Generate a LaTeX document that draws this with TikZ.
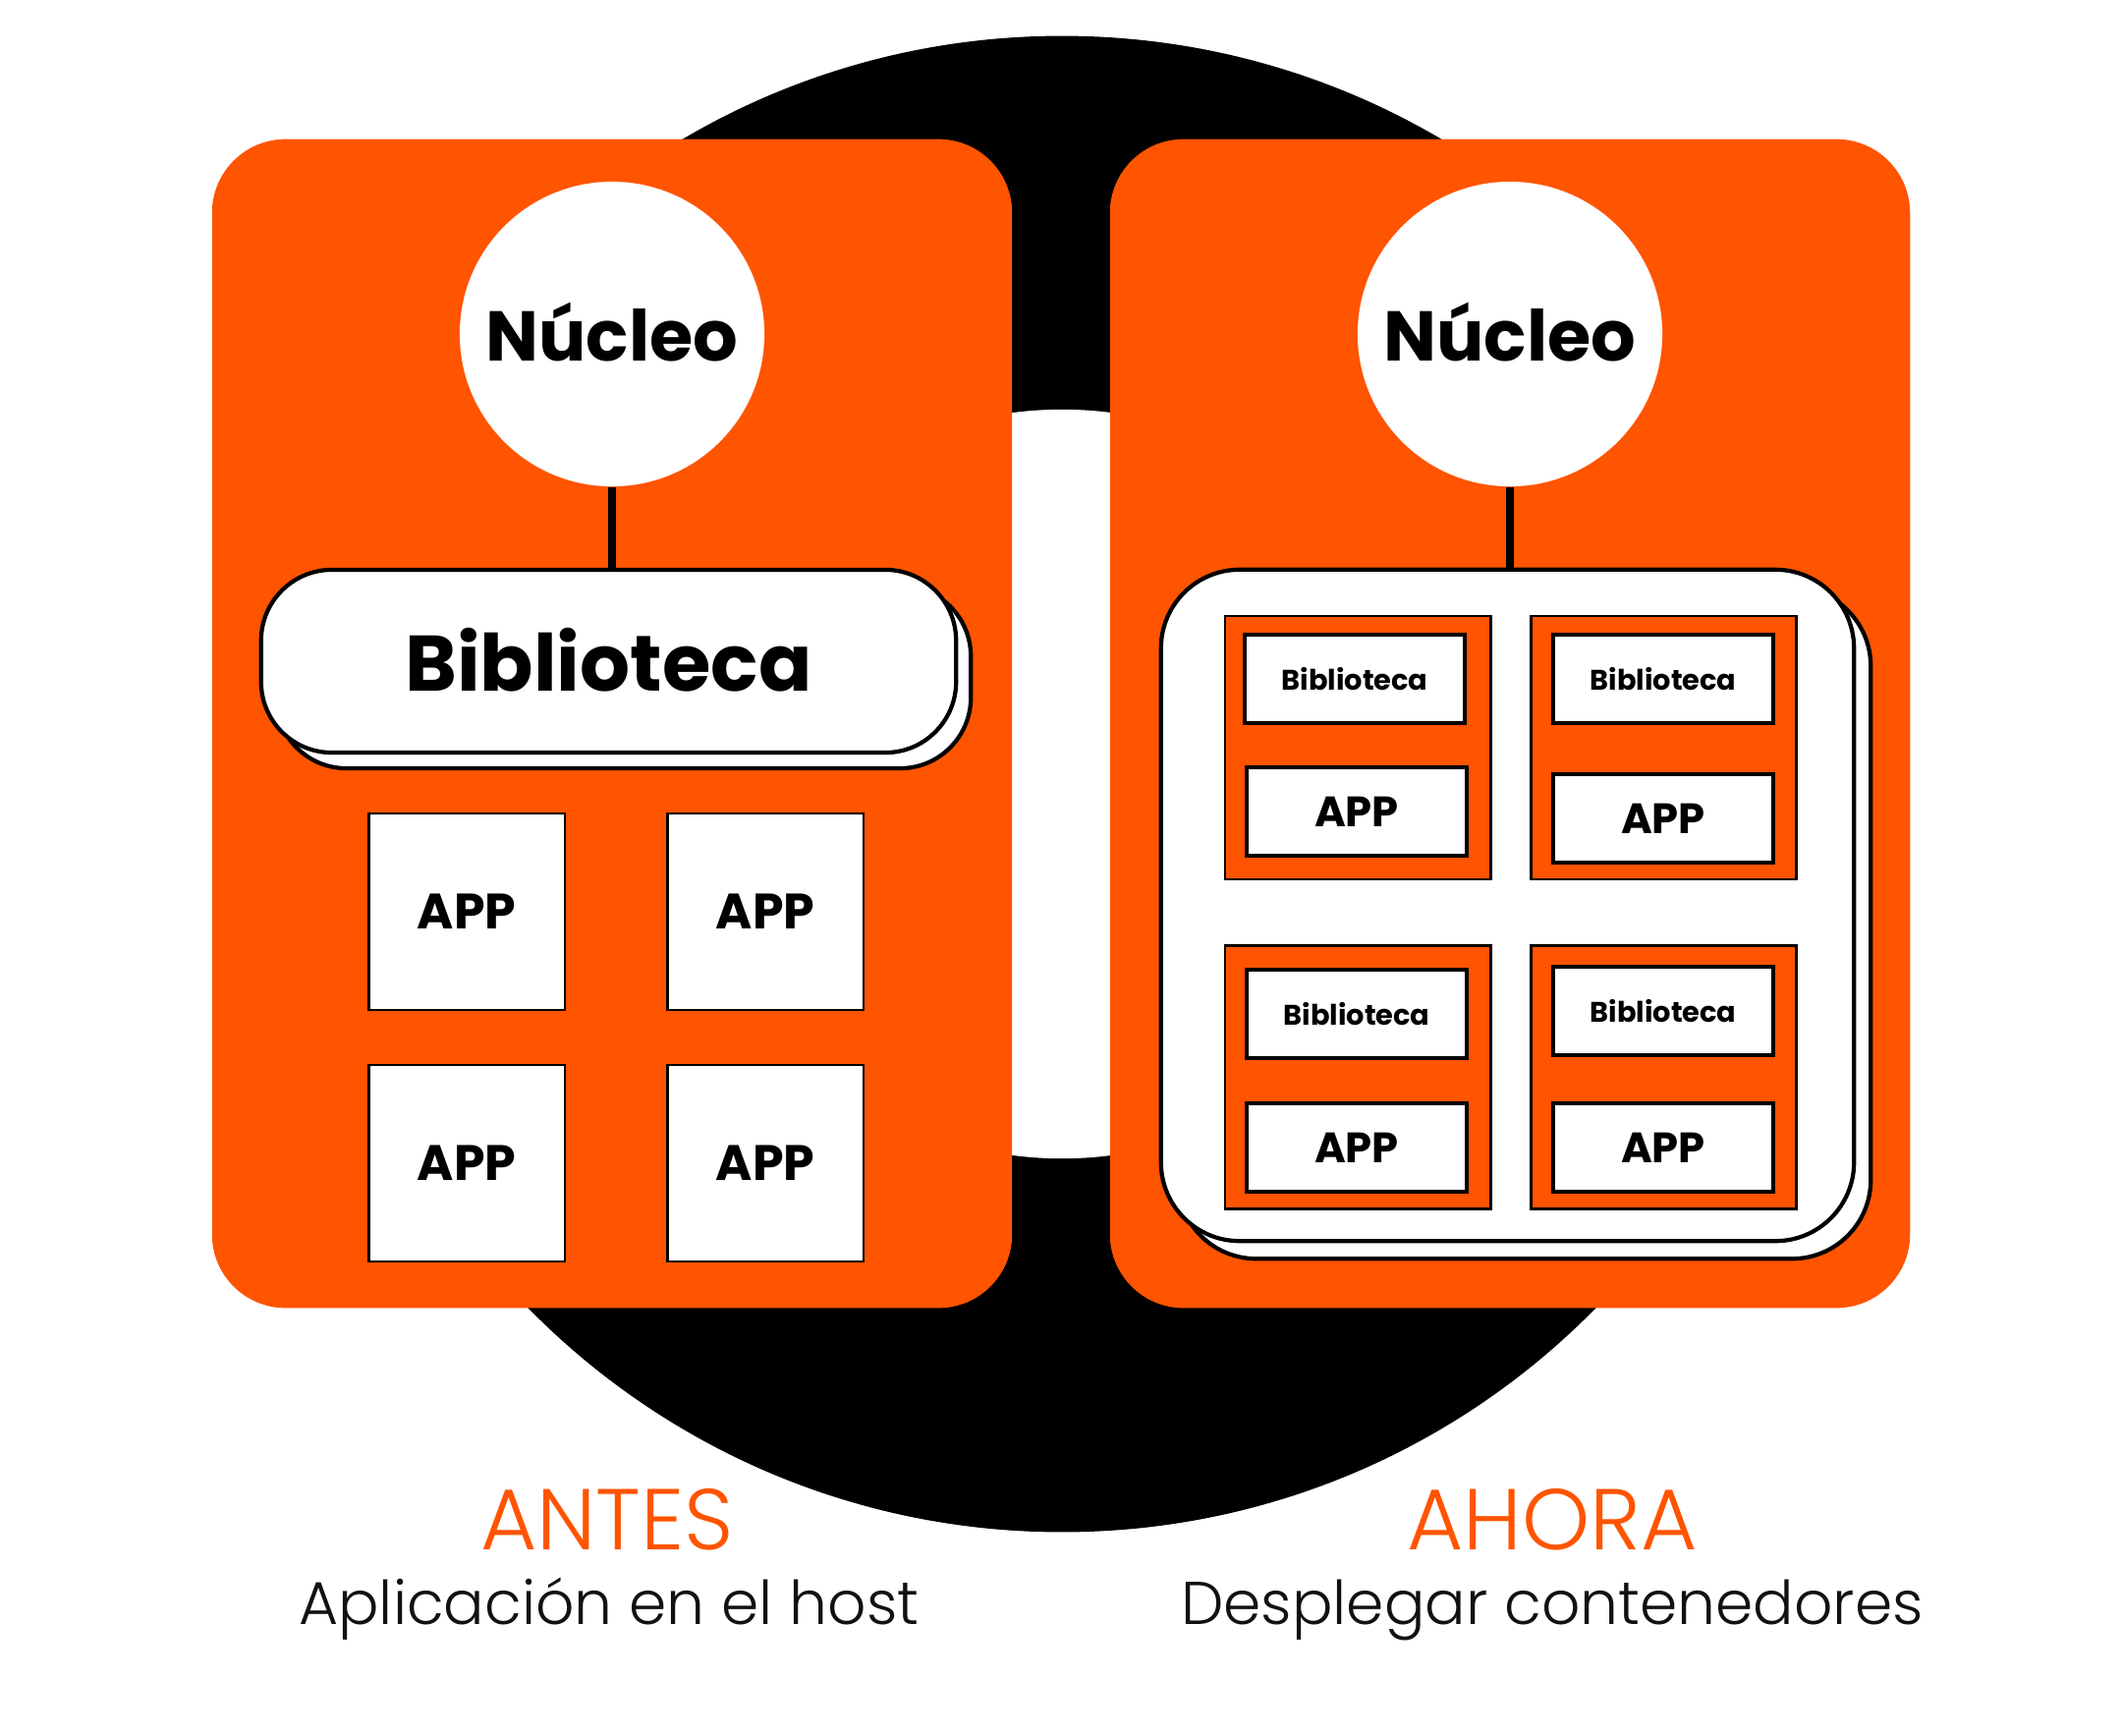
\documentclass[tikz,border=0pt]{standalone}
\usepackage{fontspec}
\setmainfont{Poppins}
\newfontfamily\poplight{Poppins Light}
\usetikzlibrary{positioning,shadows}
\definecolor{brandorange}{RGB}{255,84,0}
\definecolor{inkblack}{RGB}{17,17,17}

\begin{document}
\begin{tikzpicture}[
  x=0.01cm,y=-0.01cm,
  panel/.style={rectangle,fill=brandorange,rounded corners=0.75cm,
                minimum width=8.14cm,minimum height=11.89cm},
  nucleus/.style={circle,fill=white,minimum size=3.1cm,inner sep=0pt,
                  font=\bfseries\fontsize{20.4}{24}\selectfont},
  libbig/.style={rectangle,draw=black,fill=white,line width=1.2pt,
                 rounded corners=0.72cm,minimum width=7.07cm,minimum height=1.86cm,
                 copy shadow={shadow xshift=0.15cm,shadow yshift=-0.16cm,
                              draw=black,fill=white,line width=1.2pt},
                 font=\bfseries\fontsize{22.8}{27}\selectfont},
  appbox/.style={rectangle,draw=black,fill=white,line width=0.6pt,
                 minimum width=1.99cm,minimum height=2.0cm,
                 font=\bfseries\fontsize{14.4}{17}\selectfont},
  container/.style={rectangle,draw=black,fill=white,line width=1.2pt,
                    rounded corners=0.8cm,minimum width=7.05cm,minimum height=6.83cm,
                    copy shadow={shadow xshift=0.17cm,shadow yshift=-0.18cm,
                                 draw=black,fill=white,line width=1.2pt}},
  pod/.style={rectangle,draw=black,fill=brandorange,line width=0.8pt,
              minimum width=2.7cm,minimum height=2.68cm},
  podlib/.style={rectangle,draw=black,fill=white,line width=1.3pt,
                 minimum width=2.24cm,minimum height=0.9cm,
                 font=\bfseries\fontsize{8.2}{10}\selectfont},
  podapp/.style={podlib,font=\bfseries\fontsize{12.3}{14}\selectfont},
  link/.style={line width=2.2pt,draw=black},
  heading/.style={anchor=base,text=brandorange,font=\poplight\fontsize{25}{30}\selectfont},
  caption/.style={anchor=base,text=inkblack,font=\poplight\fontsize{17.5}{21}\selectfont}
]
\useasboundingbox (0,0) rectangle (2160,1766);
% Background ring
\fill[black] (1081,798) circle (7.61cm);
\fill[white] (1081,798) circle (3.81cm);
% Panels
\node[panel] (panelL) at (623,736.5) {};
\node[panel] (panelR) at (1537,736.5) {};
% Left: app on the host
\node[nucleus] (nucL) at (623,340) {\raisebox{1.2pt}{Núcleo}};
\node[libbig] (libL) at (619.5,673) {\raisebox{1pt}{Biblioteca}};
\draw[link] (nucL.south) -- (nucL.south |- libL.north);
\node[appbox] (appA) at (475,928) {APP};
\node[appbox] (appB) at (779,928) {APP};
\node[appbox] (appC) at (475,1184) {APP};
\node[appbox] (appD) at (779,1184) {APP};
% Right: containers
\node[nucleus] (nucR) at (1537,340) {\raisebox{1.2pt}{Núcleo}};
\node[container] (contR) at (1534.5,921.5) {};
\draw[link] (nucR.south) -- (nucR.south |- contR.north);
\node[pod] (podA) at (1382,761) {};
\node[pod] (podB) at (1693.5,761) {};
\node[pod] (podC) at (1382,1096.5) {};
\node[pod] (podD) at (1693.5,1096.5) {};
\node[podlib] (libA) at (1379,691) {Biblioteca};
\node[podapp] (pappA) at (1381,826) {APP};
\node[podlib] (libB) at (1693,691) {Biblioteca};
\node[podapp] (pappB) at (1693,833) {APP};
\node[podlib] (libC) at (1381,1032) {Biblioteca};
\node[podapp] (pappC) at (1381,1168) {APP};
\node[podlib] (libD) at (1693,1029) {Biblioteca};
\node[podapp] (pappD) at (1693,1168) {APP};
% Captions
\node[heading] (antes) at (618,1577) {ANTES};
\node[caption] (antesSub) at (620,1653) {Aplicación en el host};
\node[heading] (ahora) at (1580,1577) {AHORA};
\node[caption] (ahoraSub) at (1580,1653) {Desplegar contenedores};
\end{tikzpicture}
\end{document}
